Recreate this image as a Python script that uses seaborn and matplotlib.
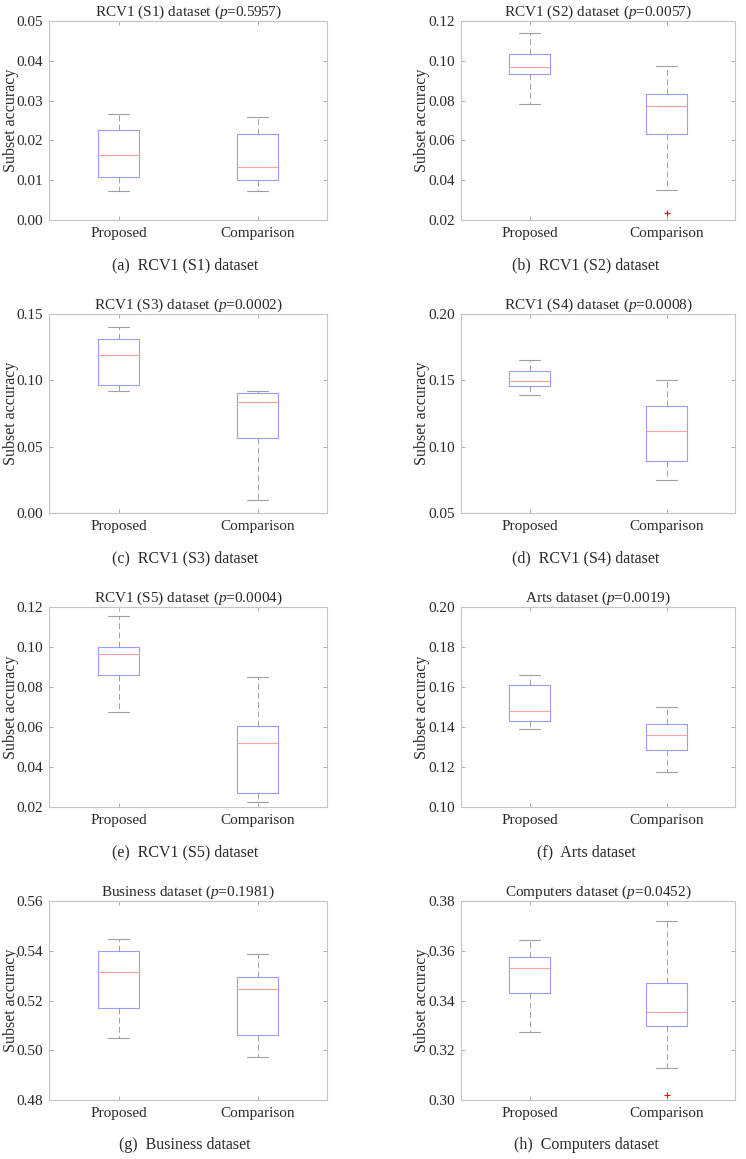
import numpy as np
import pandas as pd
import matplotlib
matplotlib.use("Agg")
import matplotlib.pyplot as plt
import seaborn as sns

sns.set_style("ticks")
plt.rcParams["font.family"] = ["Liberation Serif", "DejaVu Serif"]
plt.rcParams["mathtext.fontset"] = "custom"
plt.rcParams["mathtext.it"] = "Liberation Serif:italic"
plt.rcParams["mathtext.rm"] = "Liberation Serif"

# ===== data: five-number summaries (low whisker, q1, median, q3, high whisker) =====
methods = ["Proposed", "Comparison"]

s1_prop = [0.0074, 0.0108, 0.0163, 0.0225, 0.0267]
s1_comp = [0.0074, 0.0100, 0.0133, 0.0216, 0.0258]
s2_prop = [0.0785, 0.0932, 0.0967, 0.1033, 0.1141]
s2_comp = [0.0349, 0.0634, 0.0771, 0.0832, 0.0976]
s3_prop = [0.0920, 0.0965, 0.1188, 0.1312, 0.1400]
s3_comp = [0.0100, 0.0568, 0.0837, 0.0902, 0.0920]
s4_prop = [0.1392, 0.1460, 0.1495, 0.1568, 0.1653]
s4_comp = [0.0749, 0.0892, 0.1116, 0.1307, 0.1503]
s5_prop = [0.0673, 0.0859, 0.0964, 0.0999, 0.1155]
s5_comp = [0.0227, 0.0269, 0.0518, 0.0606, 0.0849]
arts_prop = [0.1388, 0.1428, 0.1478, 0.1612, 0.1662]
arts_comp = [0.1177, 0.1283, 0.1358, 0.1416, 0.1498]
bus_prop = [0.5048, 0.5170, 0.5314, 0.5399, 0.5447]
bus_comp = [0.4973, 0.5062, 0.5246, 0.5294, 0.5385]
comp_prop = [0.3272, 0.3430, 0.3530, 0.3573, 0.3643]
comp_comp = [0.3130, 0.3298, 0.3353, 0.3470, 0.3719]

# outliers of the Comparison group
s2_outliers = [0.0235]
comp_outliers = [0.3019]

titles = ["RCV1 (S1) dataset", "RCV1 (S2) dataset", "RCV1 (S3) dataset",
          "RCV1 (S4) dataset", "RCV1 (S5) dataset", "Arts dataset",
          "Business dataset", "Computers dataset"]
pvalues = ["0.5957", "0.0057", "0.0002", "0.0008", "0.0004", "0.0019",
           "0.1981", "0.0452"]
letters = ["a", "b", "c", "d", "e", "f", "g", "h"]
ylims = [(0.0, 0.05), (0.02, 0.12), (0.0, 0.15), (0.05, 0.20),
         (0.02, 0.12), (0.10, 0.20), (0.48, 0.56), (0.30, 0.38)]
ysteps = [0.01, 0.02, 0.05, 0.05, 0.02, 0.02, 0.02, 0.02]

panels = [(s1_prop, s1_comp, []), (s2_prop, s2_comp, s2_outliers),
          (s3_prop, s3_comp, []), (s4_prop, s4_comp, []),
          (s5_prop, s5_comp, []), (arts_prop, arts_comp, []),
          (bus_prop, bus_comp, []), (comp_prop, comp_comp, comp_outliers)]

BOX = "#9c9cff"
MED = "#ffa0a0"
GREY = "#a0a0a0"
SPINE = "#c4c4c4"
TXT = "#2a2a2a"

W, H = 746, 1159
fig = plt.figure(figsize=(W / 100, H / 100), dpi=100)

col_x = [(49, 278), (461, 274)]
row_y = [(21, 220), (314, 513), (607, 807), (901, 1100)]
cap_x = [185, 586]
cap_y = [265, 558, 852, 1145]
ylab_x = [-0.108, -0.113]

for i, (prop, comp, outl) in enumerate(panels):
    r, c = divmod(i, 2)
    x0, w = col_x[c]
    top, bot = row_y[r]
    ax = fig.add_axes([x0 / W, 1 - bot / H, w / W, (bot - top) / H])

    df = pd.DataFrame({"method": [methods[0]] * len(prop) + [methods[1]] * len(comp),
                       "acc": prop + comp})
    sns.boxplot(data=df, x="method", y="acc", order=methods, ax=ax,
                whis=np.inf, width=0.3, fill=False, linecolor=BOX, linewidth=0.8,
                boxprops=dict(color=BOX, linewidth=0.8),
                medianprops=dict(color=MED, linewidth=0.8),
                whiskerprops=dict(color=GREY, linestyle=(0, (6, 3.5)), linewidth=0.7),
                capprops=dict(color=GREY, linewidth=0.8))
    for v in outl:
        ax.plot(methods.index("Comparison"), v, "+", color="red", ms=4.5, mew=0.8)

    lo, hi = ylims[i]
    ax.set_ylim(lo, hi)
    ax.set_xlim(-0.5, 1.5)
    ax.set_yticks(np.arange(lo, hi + ysteps[i] / 2, ysteps[i]))
    ax.yaxis.set_major_formatter(matplotlib.ticker.FormatStrFormatter("%.2f"))
    ax.set_xlabel("")
    ax.set_ylabel("Subset accuracy", fontsize=11.5, color=TXT)
    ax.yaxis.set_label_coords(ylab_x[c], 0.5)
    ax.set_title(titles[i] + " ($p$=" + pvalues[i] + ")", fontsize=11,
                 color=TXT, pad=4)
    ax.tick_params(direction="in", length=3, width=0.6, color=GREY,
                   labelsize=11, labelcolor=TXT, top=True, right=True, pad=5)
    ax.tick_params(axis="y", pad=4)
    for s in ax.spines.values():
        s.set_visible(True)
        s.set_color(SPINE)
        s.set_linewidth(0.8)

    fig.text(cap_x[c] / W, 1 - cap_y[r] / H, f"({letters[i]})  {titles[i]}",
             ha="center", va="center", fontsize=11.5, color=TXT)

fig.savefig("out.png", dpi=100)
